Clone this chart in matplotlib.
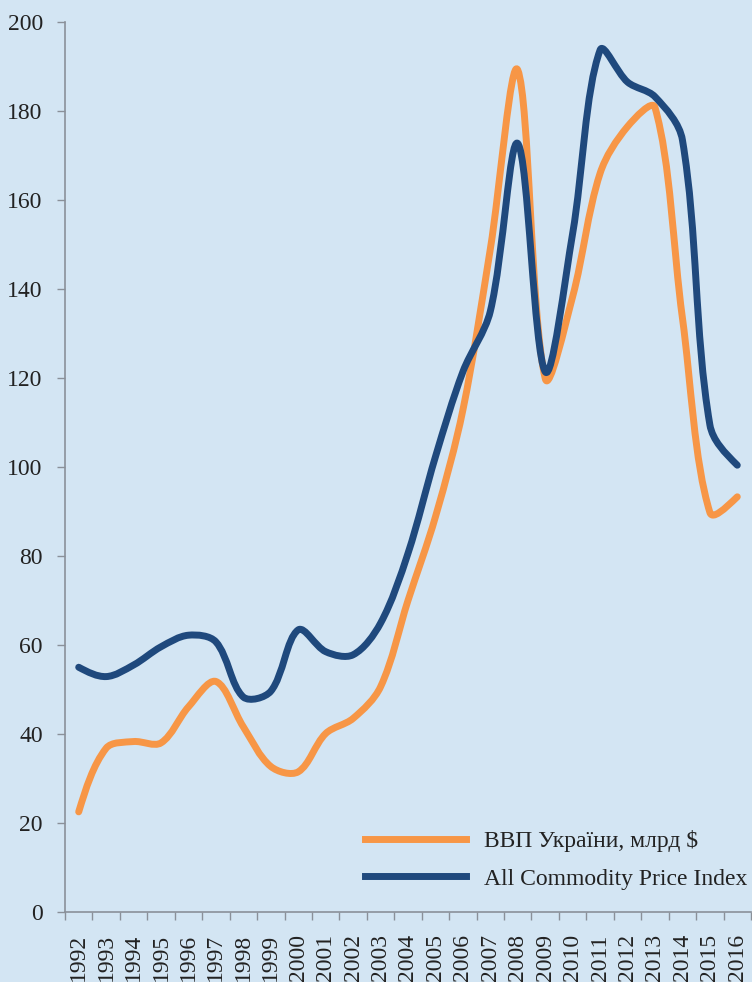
import numpy as np
import matplotlib
matplotlib.use('Agg')
import matplotlib.pyplot as plt
from matplotlib.path import Path
from matplotlib.patches import PathPatch
from matplotlib.lines import Line2D

years = [str(y) for y in range(1992, 2017)]

# ВВП України, млрд $
gdp = [22.5, 36.8, 38.3, 38.0, 46.1, 51.8, 41.6, 32.7, 31.5, 40.1, 43.5, 50.6,
       70.0, 88.8, 112.8, 149.0, 189.2, 119.9, 138.3, 166.0, 176.5, 180.8,
       133.5, 89.8, 93.3]

# All Commodity Price Index
commodity = [55.0, 52.9, 55.5, 59.6, 62.2, 60.7, 48.3, 49.6, 63.4, 58.5, 57.8, 64.9,
             80.6, 102.3, 121.4, 135.0, 172.7, 121.4, 152.5, 193.7, 186.5, 183.2,
             173.5, 109.5, 100.4]

bg = '#d3e5f3'
orange = '#f79646'
navy = '#1f497d'

FIG_W, FIG_H = 7.52, 9.82
AX_RECT = [0.0864, 0.0713, 0.9123, 0.9063]
YMAX = 200


def smooth_path(xs, ys, sx, sy, t=1.0 / 3):
    # excel-like smoothing: bezier tangents split by on-screen segment lengths
    pts = np.column_stack([xs, ys]).astype(float)
    n = len(pts)
    scr = pts * [sx, sy]
    seg = np.hypot(*np.diff(scr, axis=0).T)
    cin, cout = [None] * n, [None] * n
    for i in range(n):
        if i == 0 or i == n - 1:
            cin[i] = cout[i] = pts[i]
            continue
        d = pts[i + 1] - pts[i - 1]
        a, b = seg[i - 1], seg[i]
        cin[i] = pts[i] - d * t * a / (a + b)
        cout[i] = pts[i] + d * t * b / (a + b)
    # endpoints: aim at the neighbouring control point
    cout[0] = pts[0] + (cin[1] - pts[0]) / 2.0
    cin[n - 1] = pts[n - 1] + (cout[n - 2] - pts[n - 1]) / 2.0
    verts = [pts[0]]
    codes = [Path.MOVETO]
    for i in range(n - 1):
        verts += [cout[i], cin[i + 1], pts[i + 1]]
        codes += [Path.CURVE4] * 3
    return Path(verts, codes)


plt.rcParams['font.family'] = ['Liberation Serif', 'DejaVu Serif']

fig = plt.figure(figsize=(FIG_W, FIG_H), dpi=100, facecolor=bg)
ax = fig.add_axes(AX_RECT)
ax.set_facecolor(bg)

x = np.arange(len(years))
# pixels per data unit, for the on-screen segment lengths
sx = FIG_W * 100 * AX_RECT[2] / len(years)
sy = FIG_H * 100 * AX_RECT[3] / YMAX
for vals, col in [(gdp, orange), (commodity, navy)]:
    patch = PathPatch(smooth_path(x, vals, sx, sy), facecolor='none', edgecolor=col,
                      lw=5, capstyle='round', joinstyle='round')
    ax.add_patch(patch)

ax.set_xlim(-0.5, len(years) - 0.5)
ax.set_ylim(0, YMAX)
ax.set_yticks(range(0, YMAX + 1, 20))

# category ticks between labels
ax.set_xticks(np.arange(-0.5, len(years), 1.0))
ax.set_xticklabels([])
ax.set_xticks(x, minor=True)
ax.set_xticklabels(years, minor=True, rotation=90)
ax.tick_params(axis='x', which='major', length=6, color='#8a9099', width=1)
ax.tick_params(axis='x', which='minor', length=0, pad=16, labelsize=17, labelcolor='#222222')
ax.tick_params(axis='y', length=6, color='#8a9099', width=1, pad=10,
               labelsize=17, labelcolor='#222222')

for s in ['top', 'right']:
    ax.spines[s].set_visible(False)
for s in ['left', 'bottom']:
    ax.spines[s].set_color('#8a9099')
    ax.spines[s].set_linewidth(1.2)

handles = [Line2D([], [], color=orange, lw=5),
           Line2D([], [], color=navy, lw=5)]
ax.legend(handles, ['ВВП України, млрд $', 'All Commodity Price Index'],
          loc='lower right', bbox_to_anchor=(1.019, 0.0065), frameon=False,
          fontsize=17, handlelength=4.3, handletextpad=0.75, labelspacing=0.68,
          borderaxespad=0.3, labelcolor='#222222')

fig.savefig('out.png', dpi=100, facecolor=bg)
